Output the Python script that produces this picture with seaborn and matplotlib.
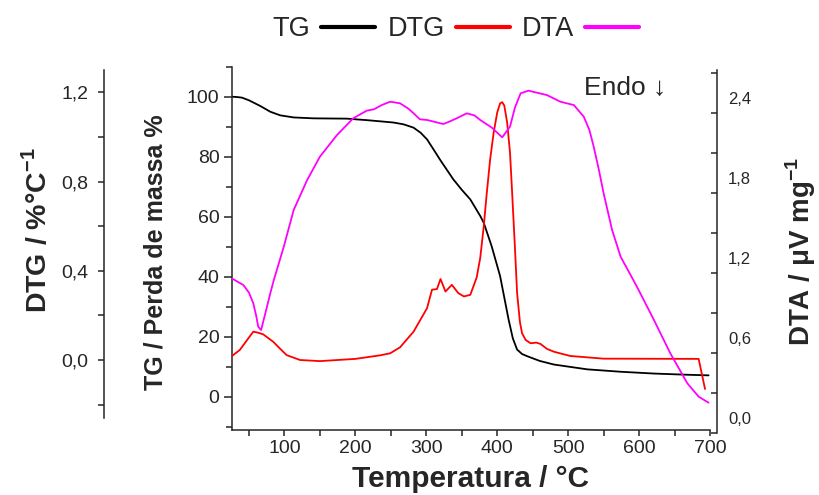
import matplotlib
matplotlib.use("Agg")
import matplotlib.pyplot as plt
import matplotlib.transforms as mtransforms
from matplotlib.ticker import FixedLocator, MultipleLocator
import seaborn as sns

# --- thermogravimetric curves ------------------------------------------------
temp_tg = [26, 33, 40, 50, 66, 80, 94, 113, 141, 188, 216, 240, 254, 268, 282,
           292, 301, 310, 320, 338, 350, 362, 376, 381, 392, 404, 416, 422,
           428, 435, 442, 460, 480, 527, 574, 621, 668, 698]
tg = [100.0, 99.9, 99.7, 98.8, 96.9, 95.0, 93.8, 93.1, 92.8, 92.7, 92.2, 91.7,
      91.4, 90.8, 89.7, 88.0, 85.8, 82.5, 78.8, 72.5, 69.0, 65.8, 60.3, 58.0,
      50.3, 40.3, 25.8, 19.5, 15.8, 14.3, 13.6, 12.0, 10.8, 9.2, 8.4, 7.8, 7.4,
      7.2]

temp_dtg = [26, 37, 49, 56, 62, 70, 84, 94, 103, 122, 150, 200, 235, 249, 263,
            282, 301, 308, 315, 320, 327, 336, 345, 353, 362, 371, 376, 381,
            385, 390, 395, 400, 404, 407, 410, 414, 418, 421, 425, 428, 432,
            435, 440, 447, 455, 461, 470, 480, 503, 550, 684, 693]
dtg = [0.018, 0.045, 0.097, 0.127, 0.123, 0.115, 0.082, 0.05, 0.022, 0.0,
       -0.005, 0.005, 0.021, 0.03, 0.057, 0.127, 0.232, 0.315, 0.318, 0.363,
       0.307, 0.337, 0.30, 0.285, 0.292, 0.37, 0.457, 0.6, 0.74, 0.9, 1.02,
       1.11, 1.15, 1.156, 1.14, 1.064, 0.93, 0.75, 0.50, 0.30, 0.17, 0.12,
       0.09, 0.075, 0.078, 0.072, 0.05, 0.037, 0.018, 0.006, 0.005, -0.13]

temp_dta = [26, 42, 50, 56, 60, 63, 67, 73, 80, 85, 99, 113, 132, 150, 174,
            197, 216, 226, 238, 249, 263, 275, 282, 291, 301, 320, 324, 333,
            343, 357, 368, 376, 392, 407, 418, 425, 433, 444, 470, 489, 508,
            522, 530, 536, 543, 550, 562, 574, 597, 621, 644, 668, 684, 698]
dta = [1.157, 1.108, 1.05, 0.971, 0.88, 0.795, 0.770, 0.896, 1.046, 1.146,
       1.395, 1.671, 1.896, 2.071, 2.233, 2.359, 2.416, 2.426, 2.46, 2.483,
       2.471, 2.43, 2.396, 2.351, 2.346, 2.321, 2.316, 2.335, 2.359, 2.396,
       2.38, 2.346, 2.29, 2.216, 2.296, 2.44, 2.546, 2.566, 2.533, 2.483,
       2.458, 2.371, 2.27, 2.146, 1.98, 1.796, 1.52, 1.320, 1.095, 0.845,
       0.596, 0.371, 0.270, 0.225]

# --- tick values and labels ---------------------------------------------------
temp_ticks = [100, 200, 300, 400, 500, 600, 700]
tg_ticks = [0, 20, 40, 60, 80, 100]
dtg_ticks = [0.0, 0.4, 0.8, 1.2]
dtg_labels = ["0,0", "0,4", "0,8", "1,2"]
dta_ticks = [0.0, 0.6, 1.2, 1.8, 2.4]
dta_labels = ["0,0", "0,6", "1,2", "1,8", "2,4"]
series_names = ["TG", "DTG", "DTA"]

sns.set_style("ticks")
plt.rcParams["font.family"] = ["Liberation Sans", "DejaVu Sans"]
plt.rcParams["mathtext.fontset"] = "custom"
plt.rcParams["mathtext.rm"] = "Liberation Sans"
plt.rcParams["mathtext.bf"] = "Liberation Sans:bold"
plt.rcParams["axes.linewidth"] = 1.1

W, H = 819, 495
fig = plt.figure(figsize=(W / 100, H / 100), dpi=100)


def rect(x0, y0, x1, y1):
    """Axes rectangle from pixel corners (top-left origin)."""
    return [x0 / W, 1 - y1 / H, (x1 - x0) / W, (y1 - y0) / H]


xlim = (26, 700)

# main TG axes
ax = fig.add_axes(rect(232, 66.7, 710, 430))
# DTG axes (own vertical extent, spine pushed far to the left)
ax_dtg = fig.add_axes(rect(232, 70, 710, 418))
# DTA axes (spine on the right)
ax_dta = fig.add_axes(rect(232, 70, 710, 432.7))

for a in (ax_dta, ax_dtg, ax):
    a.patch.set_visible(False)

sns.lineplot(x=temp_dta, y=dta, ax=ax_dta, color="#ff00ff", lw=1.3)
sns.lineplot(x=temp_dtg, y=dtg, ax=ax_dtg, color="#ff0000", lw=1.3)
sns.lineplot(x=temp_tg, y=tg, ax=ax, color="black", lw=1.3)

# ---- main axes ----
ax.set_xlim(*xlim)
ax.set_ylim(-11, 110)
for s in ("top", "right"):
    ax.spines[s].set_visible(False)
ax.xaxis.set_major_locator(FixedLocator(temp_ticks))
ax.xaxis.set_minor_locator(MultipleLocator(50))
ax.yaxis.set_major_locator(FixedLocator(tg_ticks))
ax.yaxis.set_minor_locator(MultipleLocator(10))
ax.tick_params(axis="both", which="major", direction="out", length=6,
               width=1.1, labelsize=14, pad=3)
ax.tick_params(axis="both", which="minor", direction="out", length=4, width=1.1)
ax.tick_params(axis="x", which="major", length=4)
ax.set_xlabel("Temperatura / °C", fontsize=21.5, fontweight="bold")
ax.xaxis.set_label_coords(0.5, -0.095)
ax.set_ylabel("TG / Perda de massa %", fontsize=18, fontweight="bold")
ax.yaxis.set_label_coords(-0.135, 0.49)

# ---- DTG axes ----
ax_dtg.set_xlim(*xlim)
ax_dtg.set_ylim(-0.26, 1.30)
for s in ("top", "right", "bottom"):
    ax_dtg.spines[s].set_visible(False)
ax_dtg.spines["left"].set_position(("axes", -(232 - 104) / (710 - 232)))
ax_dtg.set_xticks([])
ax_dtg.yaxis.set_major_locator(FixedLocator(dtg_ticks))
ax_dtg.set_yticklabels(dtg_labels)
ax_dtg.yaxis.set_minor_locator(MultipleLocator(0.2))
ax_dtg.tick_params(axis="y", which="both", direction="out", length=4,
                   width=1.1, labelsize=14, pad=7)
ax_dtg.set_xlabel("")
ax_dtg.set_ylabel("")

# ---- DTA axes ----
ax_dta.set_xlim(*xlim)
ax_dta.set_ylim(0, 2.721)
for s in ("top", "left", "bottom"):
    ax_dta.spines[s].set_visible(False)
ax_dta.spines["right"].set_position(("axes", 1 + 7 / (710 - 232)))
ax_dta.set_xticks([])
ax_dta.yaxis.tick_right()
ax_dta.yaxis.set_major_locator(FixedLocator(dta_ticks))
ax_dta.set_yticklabels(dta_labels)
ax_dta.yaxis.set_minor_locator(MultipleLocator(0.3))
ax_dta.tick_params(axis="y", which="both", direction="in", length=4,
                   width=1.1, labelsize=12, pad=8)
ax_dta.set_xlabel("")
ax_dta.set_ylabel("")
# tick labels of the DTA scale sit a little above their marks
shift = mtransforms.ScaledTranslation(0, 15 / 100, fig.dpi_scale_trans)
for lab in ax_dta.get_yticklabels():
    lab.set_transform(lab.get_transform() + shift)

# outer axis titles
fig.text(37 / W, 1 - 230 / H, r"DTG / %°C$^{\mathbf{-1}}$", rotation=90,
         fontsize=20.5, fontweight="bold", ha="center", va="center")
fig.text(801 / W, 1 - 252 / H, r"DTA / μV mg$^{\mathbf{-1}}$", rotation=90,
         fontsize=20, fontweight="bold", ha="center", va="center")

# Endo marker
ax.text(0.737, 0.94, "Endo ↓", transform=ax.transAxes, fontsize=19,
        ha="left", va="center")

# legend across the top, text before each line sample
handles = [ax.lines[0], ax_dtg.lines[0], ax_dta.lines[0]]
leg = fig.legend(handles, series_names, loc="center",
                 bbox_to_anchor=(456 / W, 1 - 29 / H), ncol=3, frameon=False,
                 markerfirst=False, fontsize=19.5, handlelength=2.0,
                 handletextpad=0.4, columnspacing=0.45)
for ln in leg.get_lines():
    ln.set_linewidth(3)

fig.savefig("out.png", dpi=100)
